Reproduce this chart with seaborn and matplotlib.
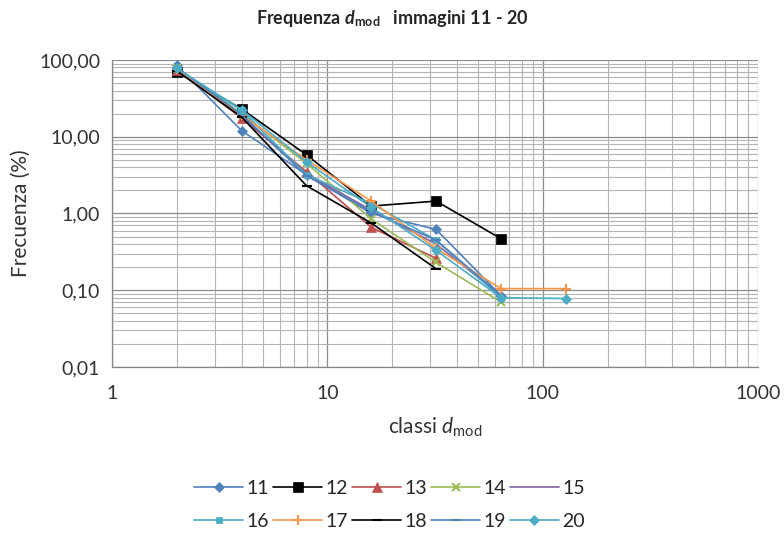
import seaborn as sns
import matplotlib.pyplot as plt
import matplotlib.ticker as mticker
import pandas as pd

# classi d_mod (asse x) e frequenze (%) per immagine
classi = [2, 4, 8, 16, 32, 64, 128]

img_11 = [85, 12.0, 3.2, 1.00, 0.62, 0.085]
img_12 = [70, 23.0, 5.8, 1.25, 1.45, 0.47]
img_13 = [75, 17.5, 3.5, 0.66, 0.26]
img_14 = [78, 20.0, 4.5, 0.85, 0.23, 0.070]
img_15 = [80, 18.5, 3.3, 1.10, 0.40, 0.085]
img_16 = [76, 22.0, 3.2, 1.35, 0.45, 0.080]
img_17 = [77, 19.0, 5.0, 1.45, 0.35, 0.105, 0.105]
img_18 = [72, 18.0, 2.3, 0.75, 0.19]
img_19 = [79, 19.5, 3.1, 1.05, 0.45, 0.085]
img_20 = [78, 22.5, 4.7, 1.20, 0.33, 0.080, 0.078]

series = {
    "11": img_11, "12": img_12, "13": img_13, "14": img_14, "15": img_15,
    "16": img_16, "17": img_17, "18": img_18, "19": img_19, "20": img_20,
}

# stile Excel
colori = {
    "11": "#4F81BD", "12": "#000000", "13": "#C0504D", "14": "#9BBB59",
    "15": "#8064A2", "16": "#4BACC6", "17": "#F79646", "18": "#000000",
    "19": "#4F81BD", "20": "#4BACC6",
}
marcatori = {
    "11": ("D", 5), "12": ("s", 7), "13": ("^", 7), "14": ("x", 6),
    "15": ("", 0), "16": ("s", 4), "17": ("+", 7), "18": ("_", 7),
    "19": ("_", 7), "20": ("D", 5),
}

rows = []
for nome, valori in series.items():
    for c, v in zip(classi, valori):
        rows.append({"classe": c, "freq": v, "img": nome})
df = pd.DataFrame(rows)

sns.set_style("white")
plt.rcParams["font.family"] = ["Lato", "DejaVu Sans"]
plt.rcParams["mathtext.fontset"] = "custom"
plt.rcParams["mathtext.rm"] = "Lato"
plt.rcParams["mathtext.it"] = "Lato:italic"
plt.rcParams["mathtext.bf"] = "Lato:bold"
plt.rcParams["mathtext.bfit"] = "Lato:bold:italic"

fig = plt.figure(figsize=(7.84, 5.4), dpi=100)
ax = fig.add_axes([0.1429, 0.3204, 0.824, 0.5685])

for nome in series:
    m, ms = marcatori[nome]
    sub = df[df["img"] == nome]
    sns.lineplot(data=sub, x="classe", y="freq", ax=ax, color=colori[nome],
                 marker=m if m else None, markersize=ms,
                 markeredgecolor=colori[nome],
                 markeredgewidth=1.5 if m in ("x", "+", "_") else 0.5,
                 linewidth=1.2, label=nome, sort=False)

ax.set_xscale("log")
ax.set_yscale("log")
ax.set_xlim(1, 1000)
ax.set_ylim(0.01, 100)

ax.xaxis.set_major_locator(mticker.LogLocator(base=10))
ax.xaxis.set_minor_locator(mticker.LogLocator(base=10, subs=range(2, 10)))
ax.yaxis.set_major_locator(mticker.LogLocator(base=10))
ax.yaxis.set_minor_locator(mticker.LogLocator(base=10, subs=range(2, 10)))
ax.xaxis.set_major_formatter(mticker.FuncFormatter(lambda v, p: f"{v:g}"))
ax.yaxis.set_major_formatter(mticker.FuncFormatter(lambda v, p: f"{v:.2f}".replace(".", ",")))
ax.xaxis.set_minor_formatter(mticker.NullFormatter())
ax.yaxis.set_minor_formatter(mticker.NullFormatter())

ax.grid(True, which="major", color="#8c8c8c", linewidth=0.9)
ax.grid(True, which="minor", color="#b4b4b4", linewidth=0.8)
ax.set_axisbelow(True)

for s in ["top", "right"]:
    ax.spines[s].set_visible(False)
for s in ["left", "bottom"]:
    ax.spines[s].set_color("#868686")
    ax.spines[s].set_linewidth(0.9)

ax.tick_params(axis="both", which="major", length=5, color="#868686",
               labelsize=14, labelcolor="#333333", direction="out")
ax.tick_params(axis="both", which="minor", length=0)
ax.tick_params(axis="x", pad=8)

ax.set_xlabel(r"classi $\mathit{d}_{\mathrm{mod}}$", fontsize=15, color="#333333", labelpad=10)
ax.set_ylabel("Frecuenza (%)", fontsize=15, color="#333333", labelpad=6)
fig.suptitle(r"Frequenza $\mathbfit{d}_{\mathbf{mod}}$   immagini 11 - 20",
             fontsize=13, fontweight="bold", y=0.985)

# legenda per righe: 11..15 sopra, 16..20 sotto
handles, labels = ax.get_legend_handles_labels()
ordine = [0, 5, 1, 6, 2, 7, 3, 8, 4, 9]
ax.legend([handles[i] for i in ordine], [labels[i] for i in ordine],
          loc="upper center", bbox_to_anchor=(0.43, -0.31), ncol=5, frameon=False,
          fontsize=14, handlelength=2.5, columnspacing=0.2, handletextpad=0.2,
          labelspacing=0.85)

plt.savefig("out.png", dpi=100)
plt.close()
